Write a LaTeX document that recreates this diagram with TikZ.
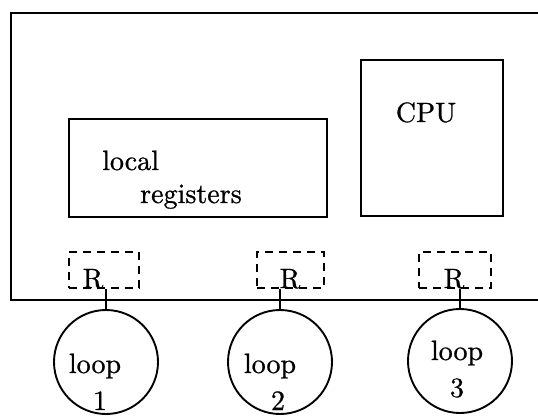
\documentclass[tikz,border=0pt]{standalone}
\usepackage{fontspec}
\setmainfont{lmroman10-regular.otf}[FakeBold=0.8]
\begin{document}
\begin{tikzpicture}[x=1pt,y=-1pt,
  txt/.style={inner sep=0pt,font=\fontsize{28}{32}\selectfont\addfontfeature{FakeBold=0.8}},
  solidbox/.style={draw,line width=1.5pt,inner sep=0pt},
  regbox/.style={draw,line width=1.3pt,dash pattern=on 8pt off 6pt,inner sep=0pt},
  loopc/.style={draw,circle,line width=1.9pt,inner sep=0pt,minimum size=104pt},
  stem/.style={line width=1.5pt}]
\useasboundingbox (0,0) rectangle (538,415);
% outer frame (open to the right)
\coordinate (ftr) at (538,12.5);
\coordinate (ftl) at (10.5,12.5);
\coordinate (fbl) at (10.5,299.5);
\coordinate (fbr) at (538,299.5);
\draw[line width=2pt] (ftr) -- (ftl) -- (fbl) -- (fbr);
% inner boxes
\node[solidbox,minimum width=258pt,minimum height=98pt] (lr) at (198,168) {};
\node[solidbox,minimum width=142pt,minimum height=156pt] (cpu) at (432,138) {};
\node[txt,anchor=base] (cput) at (426,122) {CPU};
\node[txt,anchor=base west] (lt1) at (102,170) {local};
\node[txt,anchor=base west] (lt2) at (140,203) {registers};
% R boxes
\node[regbox,minimum width=70pt,minimum height=36pt] (d1) at (104,270) {};
\node[regbox,minimum width=67pt,minimum height=36pt] (d2) at (290.5,270) {};
\node[regbox,minimum width=72pt,minimum height=36pt] (d3) at (455,270) {};
\node[txt,anchor=base] (r1) at (93,288) {R};
\node[txt,anchor=base] (r2) at (290,288) {R};
\node[txt,anchor=base] (r3) at (454,288) {R};
% loops
\node[loopc] (c1) at (106,362) {};
\node[loopc] (c2) at (280,362) {};
\node[loopc] (c3) at (460,361) {};
\draw[stem] (c1.north) -- (c1.north |- d1.south);
\draw[stem] (c2.north) -- (c2.north |- d2.south);
\draw[stem] (c3.north) -- (c3.north |- d3.south);
\node[txt,anchor=base] (lp1) at (95,373) {loop};
\node[txt,anchor=base] (n1) at (100,410) {1};
\node[txt,anchor=base] (lp2) at (270,373) {loop};
\node[txt,anchor=base] (n2) at (278,410) {2};
\node[txt,anchor=base] (lp3) at (457,360) {loop};
\node[txt,anchor=base] (n3) at (457,397) {3};
\end{tikzpicture}
\end{document}
